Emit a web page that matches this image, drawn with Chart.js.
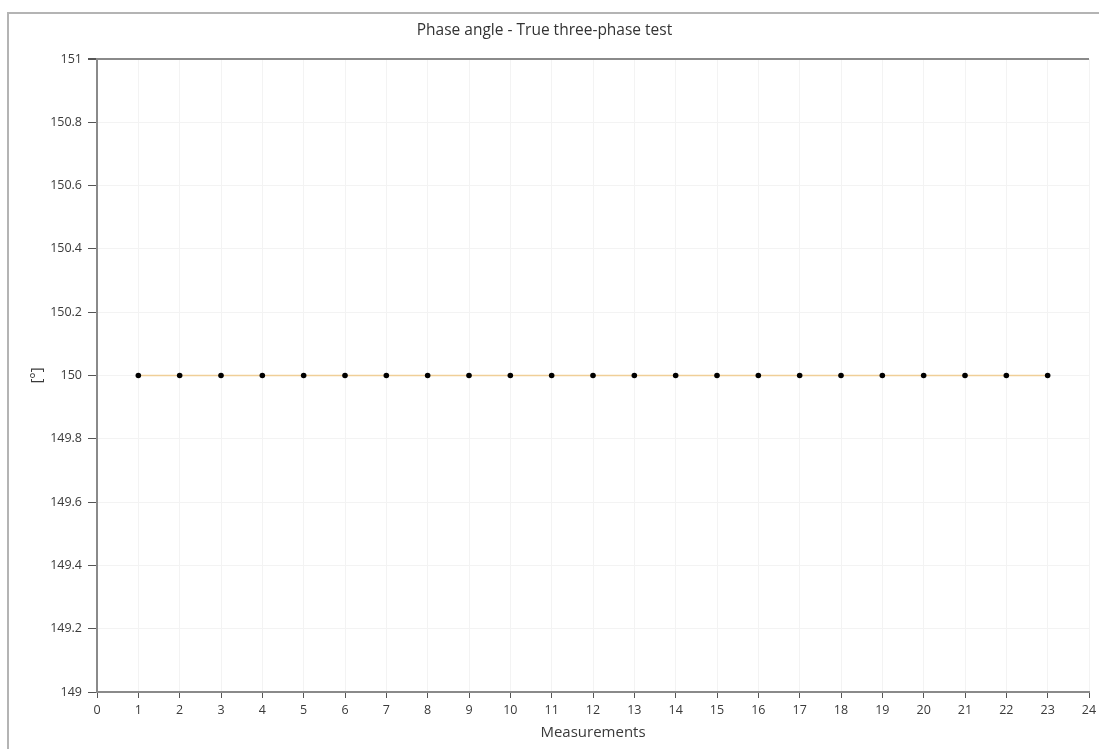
<!DOCTYPE html>
<html>
<head>
<meta charset="utf-8">
<script src="https://cdn.jsdelivr.net/npm/chart.js@4"></script>
<style>
  html, body { margin: 0; padding: 0; background: #fff; }
  #frame {
    position: absolute; left: 7px; top: 12px; width: 1092px; height: 737px;
    border-left: 2px solid #b4b4b4; border-top: 2px solid #b4b4b4;
  }
  #wrap { position: absolute; left: 0; top: 0; width: 1099px; height: 749px; }
</style>
</head>
<body>
<div id="frame"></div>
<div id="wrap"><canvas id="chart" width="1099" height="749"></canvas></div>
<script>
// ── Data ──────────────────────────────────────────────────────────────────
const measurements = [1, 2, 3, 4, 5, 6, 7, 8, 9, 10, 11, 12, 13, 14, 15, 16, 17, 18, 19, 20, 21, 22, 23];
const phaseAngle   = [150, 150, 150, 150, 150, 150, 150, 150, 150, 150, 150, 150,
                      150, 150, 150, 150, 150, 150, 150, 150, 150, 150, 150];
const xRange = [0, 24];
const yRange = [149, 151];

Chart.defaults.font.family = "'Open Sans', 'DejaVu Sans', sans-serif";
Chart.defaults.font.size = 12.5;
Chart.defaults.color = '#3a3a3a';

const points = measurements.map((m, i) => ({ x: m, y: phaseAngle[i] }));

new Chart(document.getElementById('chart').getContext('2d'), {
  type: 'line',
  data: {
    datasets: [{
      data: points,
      borderColor: '#f0cf98',
      borderWidth: 1.5,
      pointRadius: 2.8,
      pointBackgroundColor: '#000',
      pointBorderColor: '#000',
      pointBorderWidth: 0,
      fill: false,
      tension: 0,
    }]
  },
  options: {
    responsive: false,
    animation: false,
    layout: { padding: { left: 0, right: 10, top: 0, bottom: 0 } },
    plugins: {
      legend: { display: false },
      tooltip: { enabled: false },
      title: {
        display: true,
        text: 'Phase angle - True three-phase test',
        color: '#333',
        font: { size: 15.5, weight: 'normal' },
        padding: { top: 21, bottom: 19.4 },
      }
    },
    scales: {
      x: {
        type: 'linear',
        min: xRange[0],
        max: xRange[1],
        afterFit(scale) { scale.height = 57; scale.paddingRight = 0; },
        ticks: { stepSize: 1, padding: 5, color: '#3a3a3a' },
        grid: {
          color: '#f3f3f3',
          tickColor: '#555',
          tickLength: 6,
        },
        border: { color: '#8a8a8a', width: 2 },
        title: {
          display: true,
          text: 'Measurements',
          color: '#3a3a3a',
          font: { size: 15 },
          padding: { top: 0, bottom: 7 },
        }
      },
      y: {
        min: yRange[0],
        max: yRange[1],
        afterFit(scale) { scale.width = 97; },
        ticks: {
          stepSize: 0.2,
          padding: 6,
          color: '#3a3a3a',
          callback: v => parseFloat(v.toFixed(1)).toString(),
        },
        grid: {
          color: ctx => ctx.tick && ctx.tick.value === yRange[1] ? '#8a8a8a' : '#f3f3f3',
          lineWidth: ctx => ctx.tick && ctx.tick.value === yRange[1] ? 2 : 1,
          tickColor: '#555',
          tickLength: 9,
        },
        border: { color: '#8a8a8a', width: 2 },
        title: {
          display: true,
          text: '[°]',
          color: '#3a3a3a',
          font: { size: 15 },
          padding: { top: 28, bottom: 0 },
        }
      }
    }
  }
});
</script>
</body>
</html>
